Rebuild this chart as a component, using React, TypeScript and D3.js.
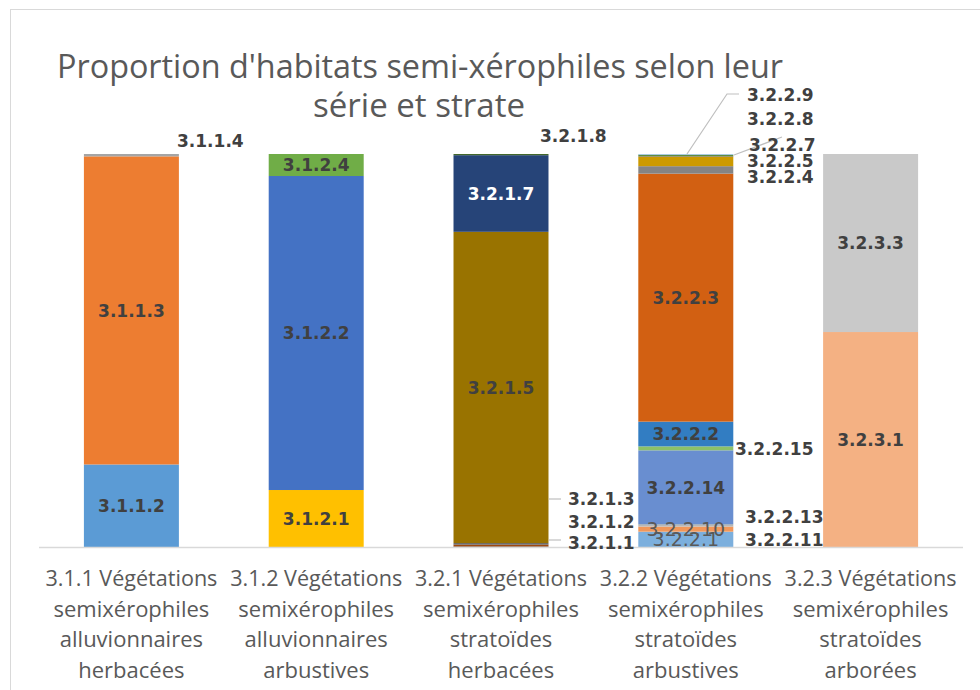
import React from "react";
import * as d3 from "d3";

// ---------- data ----------
const categories = [
  "3.1.1 Végétations semixérophiles alluvionnaires herbacées",
  "3.1.2 Végétations semixérophiles alluvionnaires arbustives",
  "3.2.1 Végétations semixérophiles stratoïdes herbacées",
  "3.2.2 Végétations semixérophiles stratoïdes arbustives",
  "3.2.3 Végétations semixérophiles stratoïdes arborées",
];
const categoryLines = [
  ["3.1.1 Végétations", "semixérophiles", "alluvionnaires", "herbacées"],
  ["3.1.2 Végétations", "semixérophiles", "alluvionnaires", "arbustives"],
  ["3.2.1 Végétations", "semixérophiles", "stratoïdes", "herbacées"],
  ["3.2.2 Végétations", "semixérophiles", "stratoïdes", "arbustives"],
  ["3.2.3 Végétations", "semixérophiles", "stratoïdes", "arborées"],
];

// series in stacking order (bottom to top), with the category each belongs to
const seriesNames = [
  "3.1.1.2", "3.1.1.3", "3.1.1.4",
  "3.1.2.1", "3.1.2.2", "3.1.2.4",
  "3.2.1.1", "3.2.1.2", "3.2.1.3", "3.2.1.5", "3.2.1.7", "3.2.1.8",
  "3.2.2.1", "3.2.2.10", "3.2.2.11", "3.2.2.13", "3.2.2.14", "3.2.2.15",
  "3.2.2.2", "3.2.2.3", "3.2.2.4", "3.2.2.5", "3.2.2.7", "3.2.2.8", "3.2.2.9",
  "3.2.3.1", "3.2.3.3",
];
const seriesCategory = [
  0, 0, 0,
  1, 1, 1,
  2, 2, 2, 2, 2, 2,
  3, 3, 3, 3, 3, 3, 3, 3, 3, 3, 3, 3, 3,
  4, 4,
];
// share (%) inside its category
const seriesValues = [
  21.0, 78.4, 0.6,
  14.5, 79.9, 5.6,
  0.1, 0.5, 0.4, 79.2, 19.5, 0.3,
  3.9, 1.3, 0.4, 0.1, 18.9, 1.0, 6.3, 63.1, 1.9, 2.5, 0.1, 0.3, 0.2,
  54.7, 45.3,
];

// ---------- styles ----------
const palette = [
  "#5B9BD5", "#ED7D31", "#A5A5A5", "#FFC000", "#4472C4", "#70AD47",
  "#255E91", "#9E480E", "#636363", "#997300", "#264478", "#43682B",
  "#7CAFDD", "#F1975A", "#B7B7B7", "#FFCD33", "#698ED0", "#8CC168",
  "#327DC2", "#D26012", "#848484", "#CC9A00", "#335AA1", "#5A8A39",
  "#9DC3E6", "#F4B183", "#C9C9C9",
];

type LabelPlace =
  | { kind: "inside"; color?: string; weight?: string; size?: number }
  | { kind: "outside"; x: number; y: number; leader?: [number, number][] };

const labelPlaces: Record<string, LabelPlace> = {
  "3.1.1.2": { kind: "inside" },
  "3.1.1.3": { kind: "inside" },
  "3.1.1.4": { kind: "outside", x: 177, y: 141 },
  "3.1.2.1": { kind: "inside" },
  "3.1.2.2": { kind: "inside" },
  "3.1.2.4": { kind: "inside" },
  "3.2.1.1": { kind: "outside", x: 568, y: 543, leader: [[549, 540], [561, 540]] },
  "3.2.1.2": { kind: "outside", x: 568, y: 522 },
  "3.2.1.3": { kind: "outside", x: 568, y: 499, leader: [[549, 499], [561, 499]] },
  "3.2.1.5": { kind: "inside" },
  "3.2.1.7": { kind: "inside", color: "#FFFFFF" },
  "3.2.1.8": { kind: "outside", x: 540, y: 136 },
  "3.2.2.1": { kind: "inside", color: "#595959", weight: "normal", size: 19 },
  "3.2.2.10": { kind: "inside", color: "#595959", weight: "normal", size: 19 },
  "3.2.2.11": { kind: "outside", x: 745, y: 540 },
  "3.2.2.13": { kind: "outside", x: 745, y: 517 },
  "3.2.2.14": { kind: "inside" },
  "3.2.2.15": { kind: "outside", x: 735, y: 449 },
  "3.2.2.2": { kind: "inside" },
  "3.2.2.3": { kind: "inside" },
  "3.2.2.4": { kind: "outside", x: 747, y: 177 },
  "3.2.2.5": { kind: "outside", x: 747, y: 161 },
  "3.2.2.7": { kind: "outside", x: 749, y: 145, leader: [[734, 155], [782, 137]] },
  "3.2.2.8": { kind: "outside", x: 747, y: 119 },
  "3.2.2.9": { kind: "outside", x: 747, y: 95, leader: [[687, 154], [727, 94], [739, 94]] },
  "3.2.3.1": { kind: "inside" },
  "3.2.3.3": { kind: "inside" },
};

const W = 980;
const H = 690;
const plot = { left: 39, right: 963, top: 154, bottom: 547 };
const labelFont = "'DejaVu Sans', sans-serif";
const textFont = "'Open Sans', 'Noto Sans', sans-serif";

export default function App() {
  const x = d3
    .scaleBand<string>()
    .domain(categories)
    .range([plot.left, plot.right])
    .paddingInner(0.486)
    .paddingOuter(0.243);
  const y = d3.scaleLinear().domain([0, 1]).range([plot.bottom, plot.top]);

  // cumulative stacking per category, normalised to 100 %
  const totals = categories.map((_, ci) =>
    d3.sum(seriesValues.filter((_, i) => seriesCategory[i] === ci))
  );
  const running = categories.map(() => 0);
  const segments = seriesNames.map((name, i) => {
    const ci = seriesCategory[i];
    const v0 = running[ci] / totals[ci];
    running[ci] += seriesValues[i];
    const v1 = running[ci] / totals[ci];
    return { name, ci, v0, v1, color: palette[i] };
  });

  const line = d3.line<[number, number]>();

  return (
    <svg
      width={W}
      height={H}
      style={{ position: "absolute", left: 0, top: 0, background: "#fff" }}
    >
      <rect x={10.5} y={9.5} width={W} height={H} fill="#fff" stroke="#D9D9D9" strokeWidth={1} />

      {/* title */}
      <text
        x={420}
        y={78}
        textAnchor="middle"
        fontFamily={textFont}
        fontSize={33}
        fill="#595959"
        textLength={726}
        lengthAdjust="spacingAndGlyphs"
      >
        Proportion d'habitats semi-xérophiles selon leur
      </text>
      <text
        x={419}
        y={117}
        textAnchor="middle"
        fontFamily={textFont}
        fontSize={33}
        fill="#595959"
        textLength={212}
        lengthAdjust="spacingAndGlyphs"
      >
        série et strate
      </text>

      {/* bars */}
      {segments.map((s) => (
        <rect
          key={s.name}
          x={x(categories[s.ci])!}
          y={y(s.v1)}
          width={x.bandwidth()}
          height={Math.max(0, y(s.v0) - y(s.v1))}
          fill={s.color}
        />
      ))}

      {/* axis line */}
      <line x1={plot.left} x2={plot.right} y1={plot.bottom + 0.5} y2={plot.bottom + 0.5} stroke="#D9D9D9" strokeWidth={1.5} />

      {/* category labels */}
      {categoryLines.map((lines, ci) =>
        lines.map((t, li) => (
          <text
            key={ci + "-" + li}
            x={x(categories[ci])! + x.bandwidth() / 2}
            y={586 + li * 30.5}
            textAnchor="middle"
            fontFamily={textFont}
            fontSize={22}
            fill="#595959"
            textLength={li === 0 ? 172 : undefined}
            lengthAdjust="spacingAndGlyphs"
          >
            {t}
          </text>
        ))
      )}

      {/* leader lines */}
      {segments.map((s) => {
        const p = labelPlaces[s.name];
        if (!p || p.kind !== "outside" || !p.leader) return null;
        return (
          <path key={"l" + s.name} d={line(p.leader)!} fill="none" stroke="#BFBFBF" strokeWidth={1.2} />
        );
      })}

      {/* data labels */}
      {segments.map((s) => {
        const p = labelPlaces[s.name];
        if (!p) return null;
        if (p.kind === "inside") {
          return (
            <text
              key={"t" + s.name}
              x={x(categories[s.ci])! + x.bandwidth() / 2}
              y={(y(s.v0) + y(s.v1)) / 2}
              dy="0.36em"
              textAnchor="middle"
              fontFamily={labelFont}
              fontWeight={p.weight ?? "bold"}
              fontSize={p.size ?? 17}
              fill={p.color ?? "#404040"}
            >
              {s.name}
            </text>
          );
        }
        return (
          <text
            key={"t" + s.name}
            x={p.x}
            y={p.y}
            dy="0.36em"
            fontFamily={labelFont}
            fontWeight="bold"
            fontSize={17}
            fill="#404040"
          >
            {s.name}
          </text>
        );
      })}
    </svg>
  );
}
